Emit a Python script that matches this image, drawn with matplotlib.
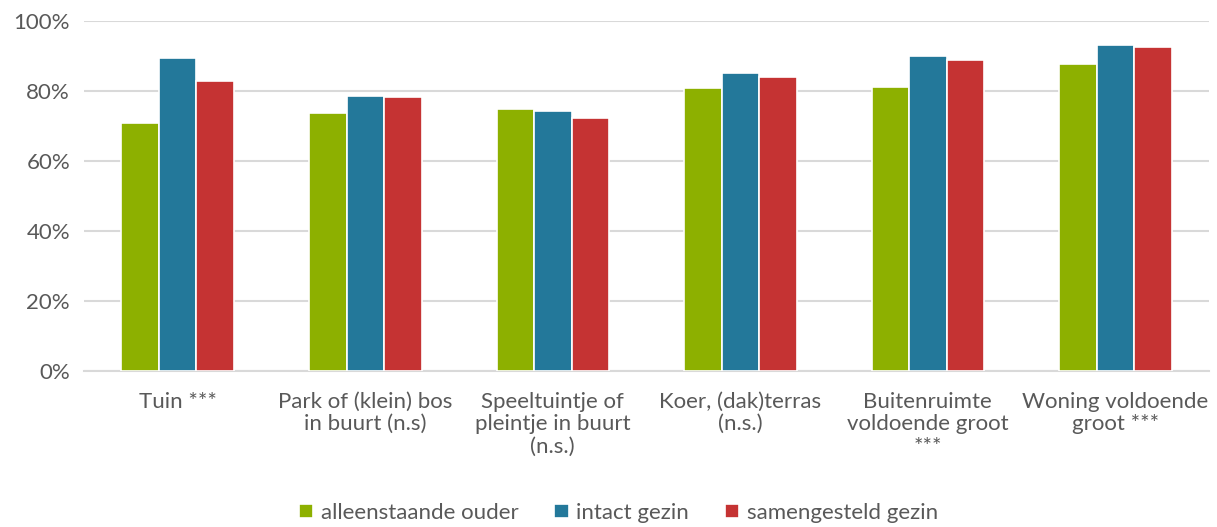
import matplotlib.pyplot as plt
import numpy as np
from matplotlib.ticker import PercentFormatter

categories = [
    "Tuin ***",
    "Park of (klein) bos\nin buurt (n.s)",
    "Speeltuintje of\npleintje in buurt\n(n.s.)",
    "Koer, (dak)terras\n(n.s.)",
    "Buitenruimte\nvoldoende groot\n***",
    "Woning voldoende\ngroot ***",
]
alleenstaande = [70.8, 73.7, 74.9, 81.0, 81.3, 87.8]
intact = [89.5, 78.6, 74.2, 85.3, 90.1, 93.2]
samengesteld = [82.9, 78.3, 72.3, 84.0, 88.8, 92.6]

series = [
    ("alleenstaande ouder", alleenstaande, "#8DB000"),
    ("intact gezin", intact, "#23789A"),
    ("samengesteld gezin", samengesteld, "#C53333"),
]

plt.rcParams["font.family"] = ["Lato", "DejaVu Sans"]
text_color = "#595959"
fs = 16

fig = plt.figure(figsize=(12.17, 5.27), dpi=100)
ax = fig.add_axes([0.069, 0.296, 0.9245, 0.664])

x = np.arange(len(categories))
w = 0.2
for i, (name, vals, col) in enumerate(series):
    ax.bar(x + (i - 1) * w, vals, width=w, color=col, edgecolor="white",
           linewidth=1.2, label=name, zorder=3)

ax.set_xlim(-0.5, len(categories) - 0.5)
ax.set_ylim(0, 100)
ax.set_yticks(range(0, 101, 20))
ax.yaxis.set_major_formatter(PercentFormatter(decimals=0))
ax.grid(axis="y", color="#D9D9D9", linewidth=1.5, zorder=0)
for s in ["top", "right", "left"]:
    ax.spines[s].set_visible(False)
ax.spines["bottom"].set_color("#D9D9D9")
ax.spines["bottom"].set_linewidth(1.5)
ax.tick_params(axis="both", length=0, labelsize=fs, colors=text_color, pad=10)
ax.tick_params(axis="x", pad=15)
ax.set_xticks(x)
ax.set_xticklabels(categories, linespacing=1.15)

# legend sits a bit left of centre in the original
leg = ax.legend(loc="center", bbox_to_anchor=(0.475, -0.405), ncol=3,
                frameon=False, fontsize=fs, handlelength=0.65, handleheight=0.65,
                handletextpad=0.35, columnspacing=1.6)
for t in leg.get_texts():
    t.set_color(text_color)

fig.savefig("out.png", dpi=100)
